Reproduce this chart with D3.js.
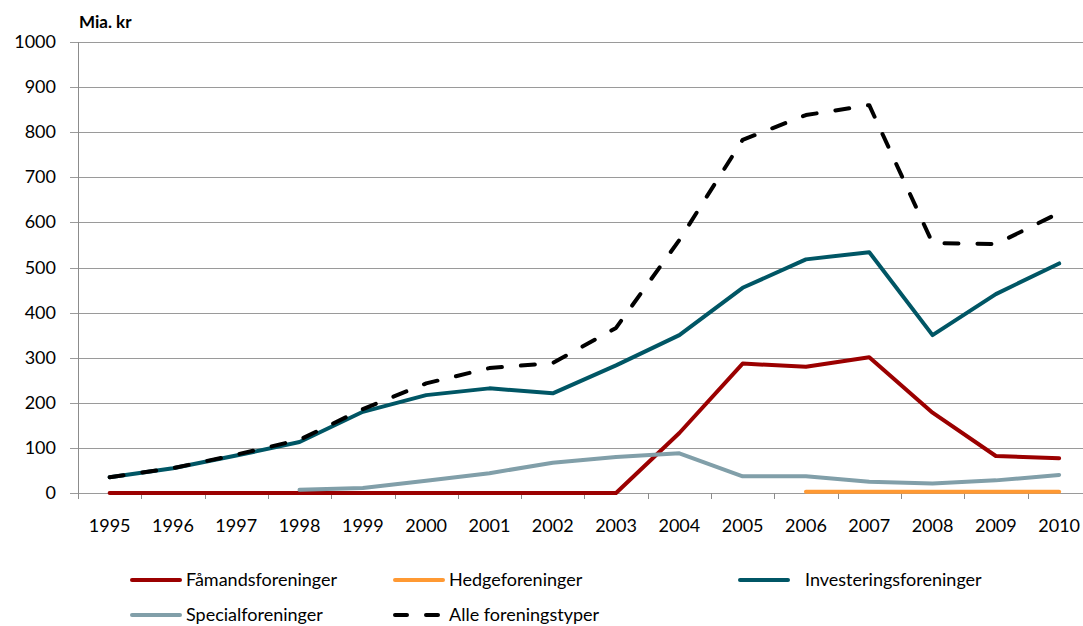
<!DOCTYPE html>
<html>
<head>
<meta charset="utf-8">
<script src="https://cdn.jsdelivr.net/npm/d3@7"></script>
<style>
  body { margin: 0; background: #fff; }
  svg { font-family: Lato, "Open Sans", sans-serif; }
</style>
</head>
<body>
<svg id="chart"></svg>
<script>
"use strict"
const aar = ["1995", "1996", "1997", "1998", "1999", "2000", "2001", "2002",
    "2003", "2004", "2005", "2006", "2007", "2008", "2009", "2010"];
const yTicks = [0, 100, 200, 300, 400, 500, 600, 700, 800, 900, 1000];

// værdier (mia. kr), null = ingen data
const famands = [0, 0, 0, 0, 0, 0, 0, 0, 0, 133, 287, 280, 301, 178, 82, 77];
const hedge = [null, null, null, null, null, null, null, null, null, null, null, 3, 3, 3, 3, 3];
const invest = [35, 55, 83, 113, 180, 217, 232, 221, 283, 350, 455, 518, 534, 350, 441, 509];
const special = [null, null, null, 7, 11, 27, 44, 67, 80, 88, 37, 37, 25, 21, 28, 40];
const alle = [35, 55, 85, 118, 186, 243, 277, 288, 366, 561, 783, 838, 860, 554, 552, 621];

const serier = [
    { navn: "Fåmandsforeninger", vaerdier: famands, farve: "#9b0000", dash: null },
    { navn: "Hedgeforeninger", vaerdier: hedge, farve: "#ff9933", dash: null },
    { navn: "Investeringsforeninger", vaerdier: invest, farve: "#005665", dash: null },
    { navn: "Specialforeninger", vaerdier: special, farve: "#819fa9", dash: null },
    { navn: "Alle foreningstyper", vaerdier: alle, farve: "#000000", dash: "14,19" }
];

const grafico = { w: 1083, h: 626 };
const svg = d3.select("#chart")
    .attr("width", grafico.w)
    .attr("height", grafico.h);

const venstre = 78;
const bredde = 63.3 * aar.length;

const scalaX = d3.scaleBand()
    .domain(aar)
    .range([venstre, venstre + bredde]);
const scalaY = d3.scaleLinear()
    .domain([0, 1000])
    .range([493, 42]);

// gitterlinjer
svg.append("g")
    .selectAll("line")
    .data(yTicks)
    .enter()
    .append("line")
    .attr("x1", venstre - 8)
    .attr("x2", venstre + bredde)
    .attr("y1", function (d) { return Math.round(scalaY(d)) + 0.5 })
    .attr("y2", function (d) { return Math.round(scalaY(d)) + 0.5 })
    .attr("stroke", "#9a9a9a")
    .attr("stroke-width", 1);

// y-akse
svg.append("line")
    .attr("x1", venstre + 0.5).attr("x2", venstre + 0.5)
    .attr("y1", scalaY(1000)).attr("y2", scalaY(0) + 5)
    .attr("stroke", "#8c8c8c");

svg.append("g")
    .selectAll("text")
    .data(yTicks)
    .enter()
    .append("text")
    .attr("x", 56)
    .attr("y", function (d) { return scalaY(d) + 6 })
    .attr("text-anchor", "end")
    .attr("font-size", "18px")
    .attr("fill", "#000")
    .text(function (d) { return d });

// x-akse: streger mellem kategorierne
svg.append("g")
    .selectAll("line")
    .data(aar)
    .enter()
    .append("line")
    .attr("x1", function (d) { return Math.round(scalaX(d)) + 0.5 })
    .attr("x2", function (d) { return Math.round(scalaX(d)) + 0.5 })
    .attr("y1", scalaY(0))
    .attr("y2", scalaY(0) + 6)
    .attr("stroke", "#8c8c8c");

svg.append("g")
    .selectAll("text")
    .data(aar)
    .enter()
    .append("text")
    .attr("x", function (d) { return scalaX(d) + scalaX.bandwidth() / 2 })
    .attr("y", 532)
    .attr("text-anchor", "middle")
    .attr("font-size", "18px")
    .text(function (d) { return d });

svg.append("text")
    .attr("x", 79)
    .attr("y", 28)
    .attr("font-size", "17px")
    .attr("font-weight", "bold")
    .text("Mia. kr");

// linjer
const linje = d3.line()
    .defined(function (d) { return d.v !== null })
    .x(function (d) { return scalaX(d.aar) + scalaX.bandwidth() / 2 })
    .y(function (d) { return scalaY(d.v) });

serier.forEach(function (s) {
    const punkter = aar.map(function (a, i) { return { aar: a, v: s.vaerdier[i] } });
    svg.append("path")
        .datum(punkter)
        .attr("d", linje)
        .attr("fill", "none")
        .attr("stroke", s.farve)
        .attr("stroke-width", 4)
        .attr("stroke-linejoin", "round")
        .attr("stroke-linecap", "round")
        .attr("stroke-dasharray", s.dash);
});

// legende
const legendePos = [
    { x: 130, y: 580 }, { x: 393, y: 580 }, { x: 738, y: 580 },
    { x: 130, y: 615 }, { x: 393, y: 615 }
];
const legende = svg.append("g")
    .selectAll("g")
    .data(serier)
    .enter()
    .append("g")
    .attr("transform", function (d, i) { return `translate(${legendePos[i].x},${legendePos[i].y})` });

legende.append("line")
    .attr("x1", 2).attr("x2", function (d) { return d.dash ? 46 : 50 })
    .attr("y1", 0).attr("y2", 0)
    .attr("stroke", function (d) { return d.farve })
    .attr("stroke-width", 4)
    .attr("stroke-linecap", "round")
    .attr("stroke-dasharray", function (d) { return d.dash ? "12,19" : null });

legende.append("text")
    .attr("x", function (d, i) { return i === 2 ? 67 : 56 })
    .attr("y", 6)
    .attr("font-size", "18px")
    .text(function (d) { return d.navn });
</script>
</body>
</html>
